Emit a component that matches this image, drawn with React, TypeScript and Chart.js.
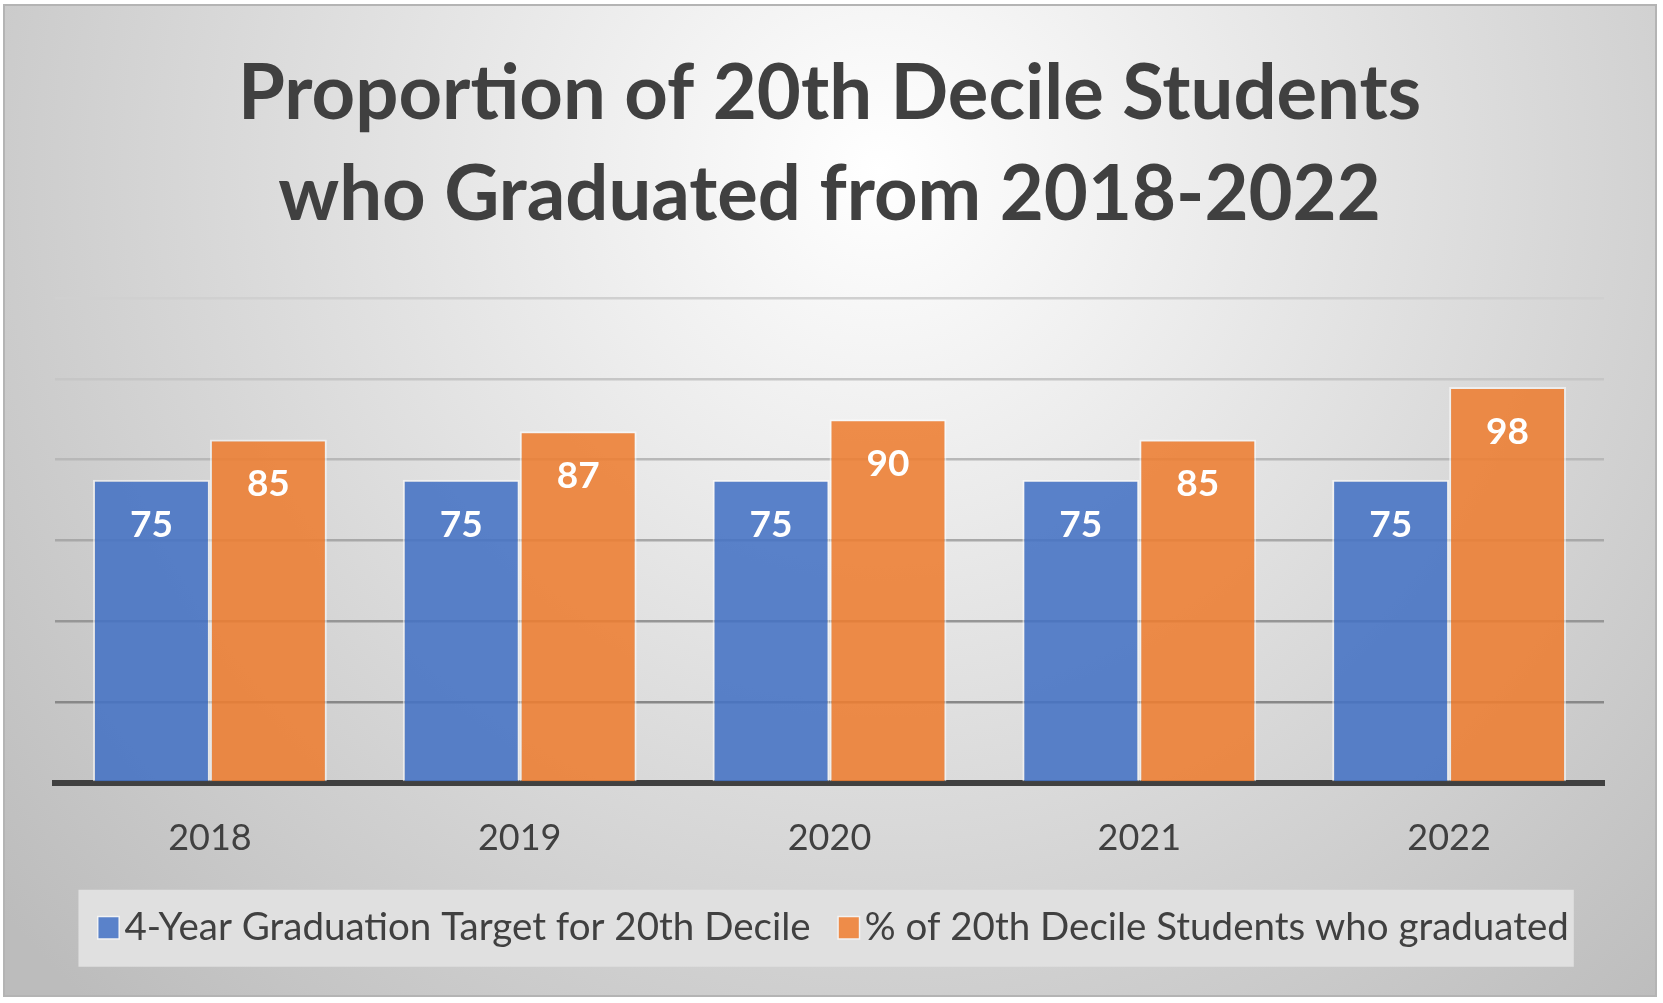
import React, { useEffect, useRef } from 'react';
import { Chart, registerables } from 'chart.js';

Chart.register(...registerables);

const categories = ['2018', '2019', '2020', '2021', '2022'];
const targetValues = [75, 75, 75, 75, 75];
const graduatedValues = [85, 87, 90, 85, 98];
const seriesNames = [
  '4-Year Graduation Target for 20th Decile',
  '% of 20th Decile Students who graduated',
];
const titleLines = ['Proportion of 20th Decile Students', 'who Graduated from 2018-2022'];
const yMin = 0;
const yMax = 120;
const yStep = 20;

const FONT = 'Lato, "Open Sans", "DejaVu Sans", sans-serif';
const TEXT = '#404040';
const BLUE = 'rgba(68,114,196,0.88)';
const ORANGE = 'rgba(237,125,49,0.88)';
const BAR_EDGE = 'rgba(255,255,255,0.55)';
const LEGEND_FONT = 38.5;
const LEGEND_BOX_SPACE = 15;

const gridColorFor = (v: number) => {
  if (v === 0) return 'rgba(0,0,0,0)';
  const map: Record<number, string> = {
    20: '#888888',
    40: '#969696',
    60: '#a8a8a8',
    80: '#b8b8b8',
    100: '#c6c6c6',
    120: '#d0d0d0',
  };
  return map[v] || '#c8c8c8';
};

const legendGeometry = (chart: any) => {
  const lg = chart.legend;
  if (!lg || !lg.legendHitBoxes || !lg.legendHitBoxes.length) return null;
  return lg.legendHitBoxes.map((b: any) => {
    const textX = b.left + LEGEND_BOX_SPACE + LEGEND_FONT / 2;
    return {
      textX,
      right: b.left + b.width,
      cy: b.top + b.height / 2,
    };
  });
};

const MARK = 20;
const MARK_GAP = 6;

const backgroundPlugin = {
  id: 'bgPanel',
  beforeDraw(chart: any) {
    const { ctx, width, height } = chart;
    ctx.save();
    ctx.fillStyle = '#ffffff';
    ctx.fillRect(0, 0, width, height);
    const g = ctx.createRadialGradient(880, 170, 0, 880, 170, 1150);
    g.addColorStop(0, '#ffffff');
    g.addColorStop(1, '#bcbcbc');
    ctx.fillStyle = g;
    ctx.fillRect(4, 5, 1652, 991);
    ctx.strokeStyle = '#b4b4b4';
    ctx.lineWidth = 2;
    ctx.strokeRect(4, 5, 1652, 991);
    const geo = legendGeometry(chart);
    if (geo) {
      const l = geo[0].textX - MARK_GAP - MARK - 20;
      const r = geo[geo.length - 1].right + 5;
      const cy = geo[0].cy;
      ctx.fillStyle = '#e0e0e0';
      ctx.fillRect(l, cy - 38, r - l, 77);
    }
    ctx.restore();
  },
  afterDraw(chart: any) {
    const geo = legendGeometry(chart);
    if (!geo) return;
    const { ctx } = chart;
    const colors = [BLUE, ORANGE];
    ctx.save();
    geo.forEach((g: any, i: number) => {
      const x = g.textX - MARK_GAP - MARK;
      const y = g.cy - MARK / 2 - 0.5;
      ctx.fillStyle = 'rgba(255,255,255,0.6)';
      ctx.fillRect(x - 1.5, y - 1.5, MARK + 3, MARK + 4);
      ctx.fillStyle = colors[i % colors.length];
      ctx.fillRect(x, y, MARK, MARK + 1);
    });
    ctx.restore();
  },
};

const valueLabelPlugin = {
  id: 'valueLabels',
  afterDatasetsDraw(chart: any) {
    const { ctx } = chart;
    ctx.save();
    ctx.fillStyle = '#ffffff';
    ctx.font = `bold 37px ${FONT}`;
    ctx.textAlign = 'center';
    ctx.textBaseline = 'middle';
    chart.data.datasets.forEach((ds: any, di: number) => {
      const meta = chart.getDatasetMeta(di);
      meta.data.forEach((bar: any, i: number) => {
        ctx.fillText(String(ds.data[i]), bar.x, bar.y + 45);
      });
    });
    ctx.restore();
  },
};

export default function App() {
  const ref = useRef<HTMLCanvasElement>(null);
  useEffect(() => {
    if (!ref.current) return;
    Chart.defaults.font.family = FONT;
    const chart = new Chart(ref.current, {
      type: 'bar',
      data: {
        labels: categories,
        datasets: [
          {
            label: seriesNames[0],
            data: targetValues,
            backgroundColor: BLUE,
            borderColor: BAR_EDGE,
            borderWidth: 2,
            categoryPercentage: 0.755,
            barPercentage: 1,
          },
          {
            label: seriesNames[1],
            data: graduatedValues,
            backgroundColor: ORANGE,
            borderColor: BAR_EDGE,
            borderWidth: 2,
            categoryPercentage: 0.755,
            barPercentage: 1,
          },
        ],
      },
      options: {
        responsive: false,
        maintainAspectRatio: false,
        animation: false,
        devicePixelRatio: 1,
        layout: { padding: { left: 55, right: 59, top: 0, bottom: 46 } },
        scales: {
          x: {
            z: 1,
            grid: { display: false, drawTicks: false },
            border: { display: true, color: '#404040', width: 6 },
            ticks: { color: TEXT, font: { size: 36, family: FONT }, padding: 34 },
            afterFit: (scale: any) => {
              scale.height = 106;
            },
          },
          y: {
            min: yMin,
            max: yMax,
            ticks: { display: false, stepSize: yStep },
            border: { display: false },
            grid: {
              drawTicks: false,
              color: (ctx: any) => gridColorFor(ctx.tick ? ctx.tick.value : -1),
              lineWidth: 2.5,
            },
          },
        },
        plugins: {
          title: {
            display: true,
            text: titleLines,
            color: TEXT,
            font: { family: FONT, size: 76, weight: 'bold', lineHeight: 1.33 },
            padding: { top: 44, bottom: 52 },
          },
          legend: {
            position: 'bottom',
            labels: {
              boxWidth: LEGEND_BOX_SPACE,
              boxHeight: 0,
              padding: 20,
              color: TEXT,
              font: { family: FONT, size: LEGEND_FONT },
              generateLabels: (chart: any) =>
                chart.data.datasets.map((ds: any, i: number) => ({
                  text: ds.label,
                  fillStyle: 'rgba(0,0,0,0)',
                  strokeStyle: 'rgba(0,0,0,0)',
                  lineWidth: 0,
                  hidden: false,
                  datasetIndex: i,
                  fontColor: TEXT,
                })),
            },
          },
          tooltip: { enabled: false },
        },
      },
      plugins: [backgroundPlugin, valueLabelPlugin],
    } as any);
    return () => chart.destroy();
  }, []);
  return (
    <div style={{ position: 'fixed', left: 0, top: 0, width: 1663, height: 1003 }}>
      <canvas ref={ref} width={1663} height={1003} style={{ display: 'block', width: 1663, height: 1003 }} />
    </div>
  );
}
